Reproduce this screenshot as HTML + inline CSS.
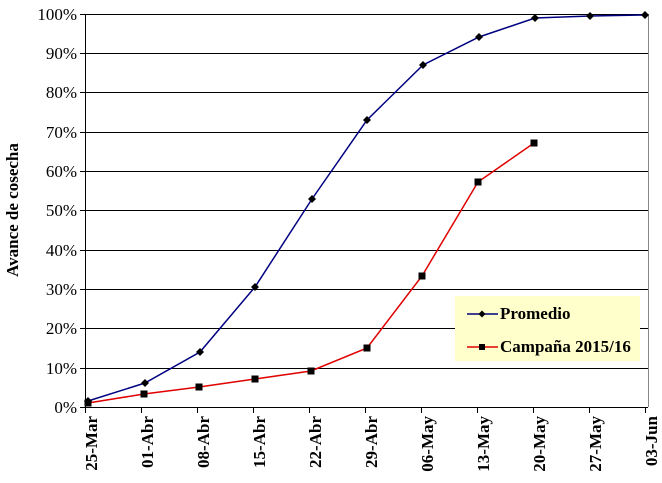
<!DOCTYPE html>
<html><head><meta charset="utf-8"><style>body{margin:0;background:#fff}svg text{font-family:"Liberation Serif",serif}</style></head>
<body>
<svg width="662" height="478" xmlns="http://www.w3.org/2000/svg">
<g stroke="#000" stroke-width="1">
<line x1="85" y1="14.5" x2="648" y2="14.5"/><line x1="85" y1="53.5" x2="648" y2="53.5"/><line x1="85" y1="92.5" x2="648" y2="92.5"/><line x1="85" y1="132.5" x2="648" y2="132.5"/><line x1="85" y1="171.5" x2="648" y2="171.5"/><line x1="85" y1="210.5" x2="648" y2="210.5"/><line x1="85" y1="250.5" x2="648" y2="250.5"/><line x1="85" y1="289.5" x2="648" y2="289.5"/><line x1="85" y1="328.5" x2="648" y2="328.5"/><line x1="85" y1="368.5" x2="648" y2="368.5"/>
<line x1="80" y1="407.5" x2="648" y2="407.5"/>
<line x1="85.5" y1="14" x2="85.5" y2="407"/>
</g>
<line x1="648.5" y1="14" x2="648.5" y2="407" stroke="#888"/>
<g stroke="#000"><line x1="80" y1="14.5" x2="85" y2="14.5"/><line x1="80" y1="53.5" x2="85" y2="53.5"/><line x1="80" y1="92.5" x2="85" y2="92.5"/><line x1="80" y1="132.5" x2="85" y2="132.5"/><line x1="80" y1="171.5" x2="85" y2="171.5"/><line x1="80" y1="210.5" x2="85" y2="210.5"/><line x1="80" y1="250.5" x2="85" y2="250.5"/><line x1="80" y1="289.5" x2="85" y2="289.5"/><line x1="80" y1="328.5" x2="85" y2="328.5"/><line x1="80" y1="368.5" x2="85" y2="368.5"/>
<line x1="85.5" y1="407" x2="85.5" y2="413"/><line x1="141.5" y1="407" x2="141.5" y2="413"/><line x1="197.5" y1="407" x2="197.5" y2="413"/><line x1="253.5" y1="407" x2="253.5" y2="413"/><line x1="309.5" y1="407" x2="309.5" y2="413"/><line x1="365.5" y1="407" x2="365.5" y2="413"/><line x1="421.5" y1="407" x2="421.5" y2="413"/><line x1="477.5" y1="407" x2="477.5" y2="413"/><line x1="533.5" y1="407" x2="533.5" y2="413"/><line x1="589.5" y1="407" x2="589.5" y2="413"/><line x1="645.5" y1="407" x2="645.5" y2="413"/></g>
<g font-size="17" text-anchor="end">
<text x="77" y="20">100%</text><text x="77" y="59">90%</text><text x="77" y="98">80%</text><text x="77" y="138">70%</text><text x="77" y="177">60%</text><text x="77" y="216">50%</text><text x="77" y="256">40%</text><text x="77" y="295">30%</text><text x="77" y="334">20%</text><text x="77" y="374">10%</text><text x="77" y="413">0%</text>
</g>
<g font-size="17" font-weight="bold" text-anchor="end">
<text transform="translate(97,416) rotate(-90)">25-Mar</text>
<text transform="translate(153,416) rotate(-90)">01-Abr</text>
<text transform="translate(209,416) rotate(-90)">08-Abr</text>
<text transform="translate(265,416) rotate(-90)">15-Abr</text>
<text transform="translate(321,416) rotate(-90)">22-Abr</text>
<text transform="translate(377,416) rotate(-90)">29-Abr</text>
<text transform="translate(433,416) rotate(-90)">06-May</text>
<text transform="translate(489,416) rotate(-90)">13-May</text>
<text transform="translate(545,416) rotate(-90)">20-May</text>
<text transform="translate(601,416) rotate(-90)">27-May</text>
<text transform="translate(657,416) rotate(-90)">03-Jun</text>
</g>
<text transform="translate(18,210) rotate(-90)" font-size="17" font-weight="bold" text-anchor="middle">Avance de cosecha</text>
<polyline fill="none" stroke="#000080" stroke-width="1.5" points="88,401 145,383 200,352 255,287 312,199 367,120 423,65 479,37 535,18 590,16 645,15"/>
<g fill="#000">
<path d="M88,397l4,4-4,4-4-4z"/><path d="M145,379l4,4-4,4-4-4z"/><path d="M200,348l4,4-4,4-4-4z"/><path d="M255,283l4,4-4,4-4-4z"/><path d="M312,195l4,4-4,4-4-4z"/><path d="M367,116l4,4-4,4-4-4z"/><path d="M423,61l4,4-4,4-4-4z"/><path d="M479,33l4,4-4,4-4-4z"/><path d="M535,14l4,4-4,4-4-4z"/><path d="M590,12l4,4-4,4-4-4z"/><path d="M645,11l4,4-4,4-4-4z"/>
</g>
<polyline fill="none" stroke="#e00000" stroke-width="1.5" points="88,403 144,394 199,387 255,379 311,371 367,348 422,276 478,182 534,143"/>
<g fill="#000">
<rect x="84.5" y="399.5" width="7" height="7"/><rect x="140.5" y="390.5" width="7" height="7"/><rect x="195.5" y="383.5" width="7" height="7"/><rect x="251.5" y="375.5" width="7" height="7"/><rect x="307.5" y="367.5" width="7" height="7"/><rect x="363.5" y="344.5" width="7" height="7"/><rect x="418.5" y="272.5" width="7" height="7"/><rect x="474.5" y="178.5" width="7" height="7"/><rect x="530.5" y="139.5" width="7" height="7"/>
</g>
<rect x="455" y="296" width="185" height="65" fill="#ffffcc"/>
<line x1="467" y1="314" x2="498" y2="314" stroke="#000080" stroke-width="1.5"/><path d="M482,310.5l3.5,3.5-3.5,3.5-3.5-3.5z"/>
<line x1="467" y1="347" x2="498" y2="347" stroke="#e00000" stroke-width="1.5"/><rect x="479" y="344" width="6" height="6"/>
<text x="500" y="319" font-size="17" font-weight="bold">Promedio</text>
<text x="500" y="352" font-size="17" font-weight="bold">Campaña 2015/16</text>
</svg>
</body></html>
